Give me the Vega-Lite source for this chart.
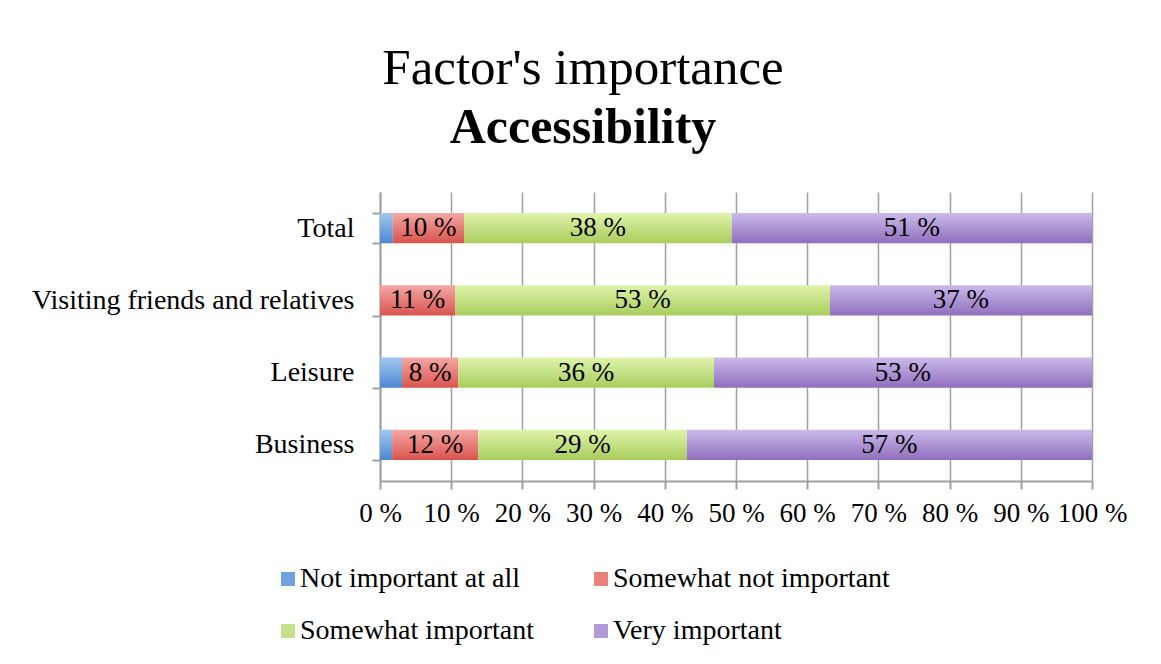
{
  "$schema": "https://vega.github.io/schema/vega-lite/v6.json",
  "width": 712,
  "height": 289,
  "autosize": {"type": "none"},
  "padding": {"left": 380, "top": 192, "right": 69, "bottom": 183},
  "background": "white",
  "config": {"view": {"stroke": null}},
  "title": {
    "text": "Factor's importance",
    "subtitle": "Accessibility",
    "font": "Liberation Serif",
    "fontSize": 51,
    "fontWeight": "normal",
    "color": "black",
    "subtitleFont": "Liberation Serif",
    "subtitleFontSize": 50,
    "subtitleFontWeight": "bold",
    "subtitleColor": "black",
    "anchor": "middle",
    "frame": "group",
    "dx": -153,
    "offset": 24,
    "subtitlePadding": 8
  },
  "data": {
    "values": [
      {"group": "Total", "level": "Not important at all", "value": 1.8},
      {"group": "Total", "level": "Somewhat not important", "value": 10.0},
      {"group": "Total", "level": "Somewhat important", "value": 37.6},
      {"group": "Total", "level": "Very important", "value": 50.6},
      {"group": "Visiting friends and relatives", "level": "Not important at all", "value": 0},
      {"group": "Visiting friends and relatives", "level": "Somewhat not important", "value": 10.6},
      {"group": "Visiting friends and relatives", "level": "Somewhat important", "value": 52.6},
      {"group": "Visiting friends and relatives", "level": "Very important", "value": 36.8},
      {"group": "Leisure", "level": "Not important at all", "value": 3.1},
      {"group": "Leisure", "level": "Somewhat not important", "value": 7.9},
      {"group": "Leisure", "level": "Somewhat important", "value": 35.9},
      {"group": "Leisure", "level": "Very important", "value": 53.1},
      {"group": "Business", "level": "Not important at all", "value": 1.7},
      {"group": "Business", "level": "Somewhat not important", "value": 12.1},
      {"group": "Business", "level": "Somewhat important", "value": 29.3},
      {"group": "Business", "level": "Very important", "value": 56.9}
    ]
  },
  "transform": [
    {"calculate": "indexof(['Not important at all','Somewhat not important','Somewhat important','Very important'], datum.level)", "as": "rank"},
    {"stack": "value", "groupby": ["group"], "sort": [{"field": "rank", "order": "ascending"}], "as": ["v0", "v1"]}
  ],
  "encoding": {
    "y": {
      "field": "group",
      "type": "nominal",
      "sort": ["Total", "Visiting friends and relatives", "Leisure", "Business"],
      "scale": {"paddingInner": 0.58, "paddingOuter": 0.29},
      "axis": {
        "title": null,
        "tickBand": "extent",
        "tickSize": 8,
        "tickColor": "#a0a0a0",
        "tickWidth": 2,
        "domainColor": "#a0a0a0",
        "domainWidth": 2,
        "labelFont": "Liberation Serif",
        "labelFontSize": 28,
        "labelColor": "black",
        "labelPadding": 18,
        "labelLimit": 400,
        "grid": false
      }
    }
  },
  "layer": [
    {
      "mark": {"type": "bar"},
      "encoding": {
        "x": {
          "field": "v0",
          "type": "quantitative",
          "scale": {"domain": [0, 100], "nice": false},
          "axis": {
            "title": null,
            "values": [0, 10, 20, 30, 40, 50, 60, 70, 80, 90, 100],
            "labelExpr": "datum.value + ' %'",
            "grid": true,
            "gridColor": "#a0a0a0",
            "gridWidth": 1.5,
            "domainColor": "#a0a0a0",
            "domainWidth": 2,
            "tickColor": "#a0a0a0",
            "tickWidth": 2,
            "tickSize": 8,
            "labelFont": "Liberation Serif",
            "labelFontSize": 27,
            "labelColor": "black",
            "labelPadding": 11,
            "labelFlush": false,
            "labelOverlap": false
          }
        },
        "x2": {"field": "v1"},
        "color": {
          "field": "level",
          "type": "nominal",
          "scale": {
            "domain": ["Not important at all", "Somewhat not important", "Somewhat important", "Very important"],
            "range": ["#6fa3e0", "#e6817c", "#c5e18b", "#b29bd6"]
          },
          "condition": [
            {"test": "datum.level === 'Not important at all'", "value": {"gradient": "linear", "x1": 0, "y1": 0, "x2": 0, "y2": 1, "stops": [{"offset": 0, "color": "#a3c6ef"}, {"offset": 1, "color": "#4b89d2"}]}},
            {"test": "datum.level === 'Somewhat not important'", "value": {"gradient": "linear", "x1": 0, "y1": 0, "x2": 0, "y2": 1, "stops": [{"offset": 0, "color": "#f4a8a4"}, {"offset": 1, "color": "#d9534e"}]}},
            {"test": "datum.level === 'Somewhat important'", "value": {"gradient": "linear", "x1": 0, "y1": 0, "x2": 0, "y2": 1, "stops": [{"offset": 0, "color": "#e0f4ac"}, {"offset": 1, "color": "#a8cc5c"}]}},
            {"test": "datum.level === 'Very important'", "value": {"gradient": "linear", "x1": 0, "y1": 0, "x2": 0, "y2": 1, "stops": [{"offset": 0, "color": "#cbbaea"}, {"offset": 1, "color": "#8f6fbd"}]}}
          ],
          "legend": {
            "orient": "none",
            "direction": "horizontal",
            "legendX": -106,
            "legendY": 373,
            "columns": 2,
            "title": null,
            "symbolType": "square",
            "symbolSize": 196,
            "symbolStrokeWidth": 0,
            "labelFont": "Liberation Serif",
            "labelFontSize": 28,
            "labelColor": "black",
            "labelLimit": 400,
            "labelOffset": -2,
            "rowPadding": 24,
            "columnPadding": 52,
            "padding": 0
          }
        }
      }
    },
    {
      "transform": [
        {"filter": "datum.value >= 5"},
        {"calculate": "(datum.v0 + datum.v1) / 2", "as": "mid"},
        {"calculate": "format(datum.value, '.0f') + ' %'", "as": "lbl"}
      ],
      "mark": {"type": "text", "font": "Liberation Serif", "fontSize": 27, "color": "black", "baseline": "middle"},
      "encoding": {
        "x": {"field": "mid", "type": "quantitative"},
        "text": {"field": "lbl", "type": "nominal"}
      }
    }
  ]
}
